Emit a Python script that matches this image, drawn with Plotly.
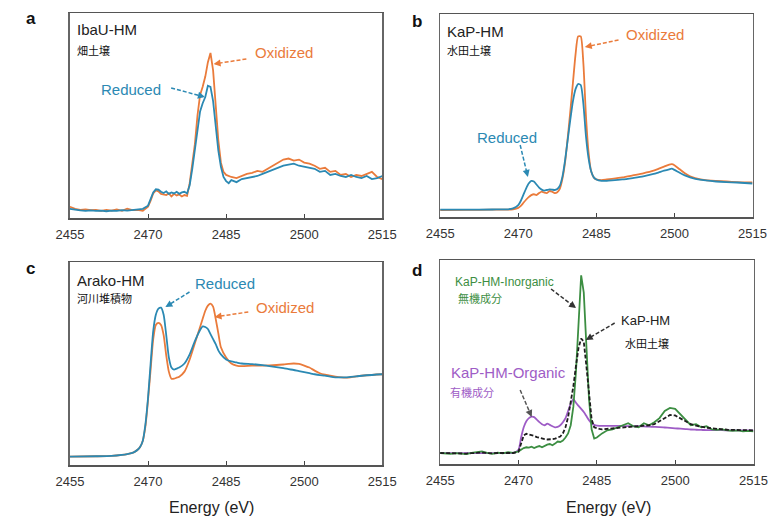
import plotly.graph_objects as go

W, H = 781, 518

# ---------------- data ----------------
a_energy = [2455, 2456, 2457, 2458, 2459, 2460, 2461, 2462, 2463, 2464, 2465, 2466, 2467, 2468, 2469, 2470,
            2470.5, 2471, 2471.5, 2472, 2472.5, 2473, 2473.5, 2474, 2474.5, 2475, 2475.5, 2476, 2476.5, 2477,
            2477.5, 2478, 2478.5, 2479, 2479.5, 2480, 2480.5, 2481, 2481.5, 2482, 2482.5, 2483, 2483.5, 2484,
            2484.5, 2485, 2485.5, 2486,
            2487, 2488, 2489, 2490, 2491, 2492, 2493, 2494, 2495, 2496, 2497, 2498, 2499, 2500, 2501, 2502,
            2503, 2504, 2505, 2506, 2507, 2508, 2509, 2510, 2511, 2512, 2513, 2514, 2515]
a_reduced = [0.045, 0.040, 0.037, 0.035, 0.037, 0.035, 0.036, 0.033, 0.036, 0.035, 0.038, 0.036, 0.040, 0.042, 0.045, 0.060,
             0.09, 0.125, 0.140, 0.138, 0.128, 0.122, 0.130, 0.118, 0.125, 0.120, 0.128, 0.118, 0.125, 0.128,
             0.120, 0.16, 0.24, 0.33, 0.43, 0.52, 0.56, 0.59, 0.645, 0.64, 0.57, 0.45, 0.33, 0.25,
             0.20, 0.18, 0.17, 0.185,
             0.175, 0.19, 0.195, 0.20, 0.205, 0.215, 0.225, 0.235, 0.245, 0.255, 0.26, 0.265, 0.255, 0.25, 0.245, 0.24,
             0.225, 0.23, 0.21, 0.215, 0.205, 0.20, 0.21, 0.20, 0.195, 0.205, 0.19, 0.195, 0.205]
a_oxidized = [0.055, 0.045, 0.040, 0.042, 0.038, 0.040, 0.035, 0.040, 0.036, 0.042, 0.035, 0.045, 0.038, 0.040, 0.035, 0.055,
              0.085, 0.12, 0.135, 0.130, 0.118, 0.115, 0.112, 0.120, 0.105, 0.118, 0.110, 0.115, 0.105, 0.112,
              0.108, 0.17, 0.27, 0.36, 0.50, 0.60, 0.64, 0.69, 0.76, 0.805, 0.72, 0.55, 0.38, 0.27,
              0.225, 0.21, 0.205, 0.20,
              0.195, 0.205, 0.215, 0.22, 0.23, 0.225, 0.24, 0.255, 0.27, 0.285, 0.29, 0.28, 0.285, 0.27, 0.265, 0.255,
              0.24, 0.245, 0.225, 0.23, 0.21, 0.215, 0.20, 0.21, 0.205, 0.215, 0.225, 0.20, 0.19]

b_energy = [2455, 2460, 2465, 2468, 2469,
            2470, 2470.5, 2471, 2471.5, 2472, 2472.5, 2473, 2473.5, 2474, 2474.5, 2475, 2475.5, 2476, 2476.5,
            2477, 2477.5, 2478, 2478.5, 2479, 2479.5, 2480, 2480.5, 2481, 2481.5, 2482, 2482.5, 2483, 2483.5,
            2484, 2484.5, 2485,
            2486, 2487, 2488, 2490, 2492, 2494, 2496, 2497, 2498, 2499, 2499.5, 2500, 2501, 2502, 2503, 2504,
            2506, 2508, 2510, 2512, 2515]
b_reduced = [0.036, 0.036, 0.037, 0.038, 0.042,
             0.058, 0.08, 0.110, 0.140, 0.165, 0.178, 0.175, 0.160, 0.145, 0.135, 0.130, 0.133, 0.136, 0.135,
             0.133, 0.138, 0.155, 0.20, 0.28, 0.38, 0.48, 0.57, 0.63, 0.655, 0.65, 0.56, 0.40, 0.29,
             0.225, 0.195, 0.185,
             0.178, 0.178, 0.180, 0.185, 0.192, 0.200, 0.212, 0.220, 0.228, 0.235, 0.238, 0.232, 0.218, 0.205, 0.195, 0.188,
             0.180, 0.175, 0.172, 0.170, 0.165]
b_oxidized = [0.034, 0.035, 0.036, 0.036, 0.038,
              0.045, 0.055, 0.070, 0.085, 0.098, 0.108, 0.112, 0.108, 0.118, 0.125, 0.12, 0.118, 0.128, 0.125,
              0.118, 0.122, 0.14, 0.19, 0.27, 0.39, 0.52, 0.66, 0.80, 0.89, 0.89, 0.76, 0.50, 0.32,
              0.225, 0.195, 0.185,
              0.182, 0.185, 0.188, 0.195, 0.205, 0.215, 0.228, 0.238, 0.248, 0.258, 0.26, 0.255, 0.235, 0.215, 0.200, 0.192,
              0.182, 0.178, 0.175, 0.172, 0.170]

c_energy = [2455, 2460, 2463, 2465, 2466, 2467, 2467.5, 2468, 2468.5, 2469, 2469.5,
            2470, 2470.5, 2471, 2471.5, 2472, 2472.5, 2473, 2473.5, 2474, 2474.5, 2475, 2475.5, 2476,
            2477, 2478, 2479, 2480, 2480.5, 2481, 2481.5, 2482, 2482.5, 2483, 2483.5, 2484,
            2485, 2486, 2487, 2488, 2490, 2492, 2494, 2496, 2497, 2498, 2499, 2500, 2501, 2502, 2503, 2504,
            2505, 2506, 2508, 2510, 2512, 2515]
c_reduced = [0.041, 0.043, 0.045, 0.050, 0.054, 0.060, 0.066, 0.075, 0.090, 0.12, 0.20,
             0.33, 0.50, 0.66, 0.74, 0.77, 0.775, 0.74, 0.64, 0.53, 0.48, 0.47, 0.475, 0.48,
             0.50, 0.545, 0.61, 0.665, 0.683, 0.68, 0.67, 0.645, 0.62, 0.595, 0.565, 0.545,
             0.52, 0.51, 0.505, 0.50, 0.497, 0.492, 0.485, 0.477, 0.472, 0.468, 0.462, 0.457, 0.452, 0.447, 0.443, 0.44,
             0.435, 0.432, 0.432, 0.437, 0.442, 0.447]
c_oxidized = [0.041, 0.043, 0.045, 0.050, 0.054, 0.060, 0.066, 0.075, 0.090, 0.12, 0.19,
              0.32, 0.47, 0.62, 0.69, 0.70, 0.69, 0.64, 0.54, 0.46, 0.425, 0.425, 0.43, 0.435,
              0.46, 0.52, 0.60, 0.68, 0.72, 0.76, 0.785, 0.795, 0.78, 0.72, 0.65, 0.58,
              0.53, 0.50, 0.49, 0.487, 0.49, 0.49, 0.492, 0.495, 0.498, 0.50, 0.498, 0.49, 0.48, 0.465, 0.452, 0.445,
              0.44, 0.435, 0.43, 0.437, 0.442, 0.447]

d_energy = list(a_energy)
d_inorganic = [0.054, 0.052, 0.050, 0.053, 0.050, 0.048, 0.055, 0.058, 0.062, 0.055, 0.050, 0.056, 0.052, 0.058, 0.055, 0.062,
               0.072, 0.078, 0.082, 0.080, 0.085, 0.078, 0.084, 0.088, 0.082, 0.090, 0.095, 0.098, 0.092, 0.10,
               0.11, 0.108, 0.115, 0.13, 0.15, 0.19, 0.28, 0.45, 0.70, 0.925, 0.84, 0.56, 0.32, 0.17,
               0.125, 0.13, 0.14, 0.15,
               0.165, 0.17, 0.18, 0.19, 0.20, 0.185, 0.18, 0.20, 0.19, 0.205, 0.225, 0.26, 0.275, 0.27, 0.245, 0.215,
               0.19, 0.195, 0.18, 0.185, 0.17, 0.168, 0.17, 0.165, 0.162, 0.165, 0.16, 0.162, 0.16]
d_total = [0.054, 0.053, 0.052, 0.053, 0.052, 0.051, 0.053, 0.055, 0.056, 0.054, 0.052, 0.054, 0.053, 0.055, 0.054, 0.06,
           0.10, 0.14, 0.148, 0.145, 0.14, 0.138, 0.132, 0.128, 0.124, 0.122, 0.12, 0.12, 0.122, 0.124,
           0.128, 0.135, 0.15, 0.18, 0.23, 0.30, 0.38, 0.48, 0.57, 0.615, 0.60, 0.48, 0.33, 0.22,
           0.18, 0.175, 0.172, 0.17,
           0.172, 0.175, 0.178, 0.18, 0.182, 0.183, 0.185, 0.188, 0.19, 0.195, 0.21, 0.225, 0.24, 0.238, 0.225, 0.21,
           0.195, 0.188, 0.182, 0.178, 0.175, 0.172, 0.17, 0.168, 0.167, 0.166, 0.165, 0.165, 0.165]
d_organic = [0.053, 0.053, 0.053, 0.053, 0.053, 0.053, 0.053, 0.053, 0.053, 0.053, 0.053, 0.053, 0.053, 0.053, 0.054, 0.07,
             0.13, 0.18, 0.21, 0.225, 0.232, 0.23, 0.218, 0.205, 0.195, 0.19, 0.198, 0.192, 0.185, 0.18,
             0.182, 0.19, 0.205, 0.225, 0.26, 0.295, 0.318, 0.30, 0.285, 0.27, 0.255, 0.235, 0.215, 0.20,
             0.192, 0.188, 0.187, 0.187,
             0.187, 0.187, 0.187, 0.186, 0.186, 0.185, 0.185, 0.184, 0.183, 0.182, 0.181, 0.179, 0.177, 0.175, 0.173, 0.171,
             0.169, 0.168, 0.167, 0.166, 0.166, 0.166, 0.166, 0.165, 0.165, 0.165, 0.165, 0.165, 0.165]

x_ticks = [2455, 2470, 2485, 2500, 2515]

# ---------------- styling ----------------
ORANGE = "#EA7B3B"
BLUE = "#2B89B3"
GREEN = "#3C8E42"
PURPLE = "#9E5CC6"
BLACK = "#1E1E1E"
FONT = "Liberation Sans, Arial, Noto Sans CJK JP, sans-serif"
CJK = "Noto Sans CJK JP, Liberation Sans, sans-serif"


def px(x):
    return x / W


def py(y):
    return 1 - y / H


panels = [  # (x0, x1, ytop, ybottom) in pixels
    (58, 382, 13, 218),
    (442, 766, 14, 217),
    (58, 382, 262, 465),
    (442, 767, 260, 464),
]

fig = go.Figure()

series = [
    (1, a_energy, a_oxidized, ORANGE, "solid", "linear"),
    (1, a_energy, a_reduced, BLUE, "solid", "linear"),
    (2, b_energy, b_oxidized, ORANGE, "solid", "spline"),
    (2, b_energy, b_reduced, BLUE, "solid", "spline"),
    (3, c_energy, c_oxidized, ORANGE, "solid", "spline"),
    (3, c_energy, c_reduced, BLUE, "solid", "spline"),
    (4, d_energy, d_organic, PURPLE, "solid", "spline"),
    (4, d_energy, d_inorganic, GREEN, "solid", "linear"),
    (4, d_energy, d_total, BLACK, "4px,2px", "linear"),
]
for idx, xs, ys, col, dash, shape in series:
    sfx = "" if idx == 1 else str(idx)
    line = dict(color=col, width=1.8, dash=dash, shape=shape)
    if shape == "spline":
        line["smoothing"] = 0.6
    fig.add_trace(go.Scatter(x=xs, y=ys, mode="lines", xaxis="x" + sfx, yaxis="y" + sfx,
                             line=line, showlegend=False, hoverinfo="skip"))

layout = dict(width=W, height=H, margin=dict(l=0, r=0, t=0, b=0),
              paper_bgcolor="white", plot_bgcolor="white", showlegend=False,
              font=dict(family=FONT, color="#222"))
for i, (x0, x1, yt, yb) in enumerate(panels, start=1):
    sfx = "" if i == 1 else str(i)
    layout["xaxis" + sfx] = dict(domain=[px(x0), px(x1)], range=[2455, 2515], anchor="y" + sfx,
                                 tickvals=x_ticks, ticks="inside", ticklen=4, tickcolor="#444",
                                 showgrid=False, zeroline=False, showline=True, linecolor="#555",
                                 linewidth=1.5, mirror=True, ticklabelstandoff=4,
                                 tickfont=dict(size=13, color="#333", family=FONT))
    layout["yaxis" + sfx] = dict(domain=[py(yb), py(yt)], range=[0, 1], anchor="x" + sfx,
                                 showticklabels=False, ticks="", showgrid=False, zeroline=False,
                                 showline=True, linecolor="#666", linewidth=1.5, mirror=True)
fig.update_layout(**layout)

ann = []
shapes = []


def text(x, y, s, size, color, anchor="left", bold=False, family=FONT):
    ann.append(dict(x=px(x), y=py(y), xref="paper", yref="paper", text=("<b>%s</b>" % s) if bold else s,
                    showarrow=False, xanchor=anchor, yanchor="middle",
                    font=dict(size=size, color=color, family=family)))


def arrow(x0, y0, x1, y1, color):
    # dashed shaft from (x0,y0) to near (x1,y1) plus a small head
    dx, dy = x1 - x0, y1 - y0
    L = (dx * dx + dy * dy) ** 0.5
    ux, uy = dx / L, dy / L
    shapes.append(dict(type="line", xref="paper", yref="paper", x0=px(x0), y0=py(y0),
                       x1=px(x1 - ux * 4), y1=py(y1 - uy * 4),
                       line=dict(color=color, width=1.5, dash="4px,2px")))
    ann.append(dict(x=px(x1), y=py(y1), xref="paper", yref="paper", text="", showarrow=True,
                    ax=-ux * 6, ay=-uy * 6, arrowhead=2, arrowsize=1, arrowwidth=1.4,
                    arrowcolor=color, standoff=0))


# panel letters
text(10, 18, "a", 17, "#111", bold=True)
text(411, 21, "b", 17, "#111", bold=True)
text(10, 268, "c", 17, "#111", bold=True)
text(411, 270, "d", 17, "#111", bold=True)

# panel a
text(63, 30, "IbaU-HM", 15, "#222")
text(63, 50, "畑土壌", 11, "#111", family=CJK)
text(280, 52, "Oxidized", 15, ORANGE, anchor="center")
text(121, 89, "Reduced", 15, BLUE, anchor="center")
arrow(241, 59, 207, 64, ORANGE)
arrow(163, 88, 198, 97, BLUE)

# panel b
text(447, 32, "KaP-HM", 15, "#222")
text(447, 50, "水田土壌", 11, "#111", family=CJK)
text(665, 35, "Oxidized", 15, ORANGE, anchor="center")
text(511, 137, "Reduced", 15, BLUE, anchor="center")
arrow(627, 40, 592, 47, ORANGE)
arrow(525, 145, 533, 177, BLUE)

# panel c
text(63, 280, "Arako-HM", 15, "#222")
text(63, 298, "河川堆積物", 11, "#111", family=CJK)
text(219, 283, "Reduced", 15, BLUE, anchor="center")
text(281, 307, "Oxidized", 15, ORANGE, anchor="center")
arrow(182, 292, 157, 307, BLUE)
arrow(243, 312, 208, 317, ORANGE)

# panel d
text(509, 282, "KaP-HM-Inorganic", 12, GREEN, anchor="center")
text(458, 298, "無機成分", 11, GREEN, family=CJK)
arrow(557, 289, 583, 308, "#333")
text(655, 320, "KaP-HM", 13, "#222", anchor="center")
text(632, 343, "水田土壌", 11, "#111", family=CJK)
arrow(623, 323, 593, 340, "#333")
text(513, 372, "KaP-HM-Organic", 15, PURPLE, anchor="center")
text(450, 392, "有機成分", 11, PURPLE, family=CJK)
arrow(525, 390, 537, 417, "#555")

# axis titles (bottom row)
for cx in (205, 617):
    ann.append(dict(x=px(cx), y=py(507), xref="paper", yref="paper", text="Energy (eV)",
                    showarrow=False, xanchor="center", yanchor="middle",
                    font=dict(size=16, color="#222", family=FONT)))

fig.update_layout(annotations=ann, shapes=shapes)
fig.write_html("out.html", config={"displayModeBar": False, "staticPlot": True},
               post_script="document.body.style.margin='0px';document.body.style.overflow='hidden';")
